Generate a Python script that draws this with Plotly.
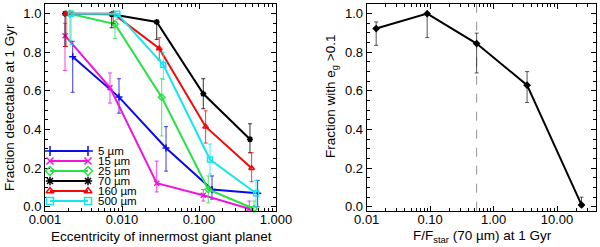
import plotly.graph_objects as go

# ---------------- data: left panel ----------------
wavelength_labels = ["5 µm", "15 µm", "25 µm", "70 µm", "160 µm", "500 µm"]
series_colors = ["rgb(10,10,235)", "rgb(240,20,220)", "rgb(40,225,70)", "rgb(0,0,0)", "rgb(240,10,10)", "rgb(20,230,240)"]
series_symbols = ["cross-thin-open", "x-thin-open", "diamond-open", "asterisk-open", "triangle-up-open", "square-open"]

ecc_5 = [0.00229, 0.00914, 0.0373, 0.1475, 0.578]
frac_5 = [0.777, 0.568, 0.305, 0.09, 0.07]
errp_5 = [0.08, 0.095, 0.11, 0.07, 0.067]
errm_5 = [0.184, 0.083, 0.12, 0.05, 0.07]

ecc_15 = [0.00182, 0.00698, 0.02824, 0.1137, 0.450]
frac_15 = [0.886, 0.617, 0.122, 0.06, -0.01]
errp_15 = [0.064, 0.076, 0.115, 0.03, 0.04]
errm_15 = [0.18, 0.08, 0.045, 0.03, 0.01]

ecc_25 = [0.00211, 0.00811, 0.0328, 0.132, 0.518]
frac_25 = [1.0, 0.946, 0.567, 0.09, -0.01]
errp_25 = [0.0, 0.015, 0.096, 0.07, 0.04]
errm_25 = [0.14, 0.075, 0.2, 0.07, 0.01]

ecc_70 = [0.00182, 0.00735, 0.02824, 0.1137, 0.459]
frac_70 = [1.0, 0.997, 0.957, 0.585, 0.35]
errp_70 = [0.0, 0.003, 0.0, 0.078, 0.08]
errm_70 = [0.17, 0.07, 0.09, 0.077, 0.07]

ecc_160 = [0.001875, 0.00771, 0.0305, 0.122, 0.483]
frac_160 = [1.0, 1.0, 0.82, 0.415, 0.2]
errp_160 = [0.0, 0.0, 0.055, 0.082, 0.08]
errm_160 = [0.17, 0.05, 0.06, 0.085, 0.07]

ecc_500 = [0.00218, 0.00869, 0.0344, 0.139, 0.550]
frac_500 = [1.0, 1.0, 0.735, 0.245, 0.07]
errp_500 = [0.0, 0.0, 0.065, 0.08, 0.067]
errm_500 = [0.16, 0.03, 0.075, 0.075, 0.07]

left_xtickvals = [0.001, 0.01, 0.1, 1.0]
left_xticktext = ["0.001", "0.010", "0.100", "1.000"]

# ---------------- data: right panel ----------------
flux_ratio = [0.0141, 0.0898, 0.54, 3.37, 24.3]
frac_ecc = [0.923, 1.0, 0.845, 0.63, 0.01]
frac_errp = [0.034, 0.0, 0.054, 0.07, 0.04]
frac_errm = [0.087, 0.124, 0.152, 0.09, 0.01]
flux_threshold = 0.54

right_xtickvals = [0.01, 0.1, 1.0, 10.0]
right_xticktext = ["0.01", "0.10", "1.00", "10.00"]

ytickvals = [0.0, 0.2, 0.4, 0.6, 0.8, 1.0]

left_xtitle = "Eccentricity of innermost giant planet"
left_ytitle = "Fraction detectable at 1 Gyr"
right_xtitle = "F/F<sub>star</sub> (70 µm) at 1 Gyr"
right_ytitle = "Fraction with e<sub>g</sub> >0.1"

# ---------------- figure ----------------
W, H = 600, 247
FONT = "Liberation Sans, Arial, Helvetica, sans-serif"

fig = go.Figure()

ecc_all = [ecc_5, ecc_15, ecc_25, ecc_70, ecc_160, ecc_500]
frac_all = [frac_5, frac_15, frac_25, frac_70, frac_160, frac_500]
errp_all = [errp_5, errp_15, errp_25, errp_70, errp_160, errp_500]
errm_all = [errm_5, errm_15, errm_25, errm_70, errm_160, errm_500]

for i in range(6):
    fig.add_trace(go.Scatter(
        x=ecc_all[i], y=frac_all[i], mode="lines+markers",
        line=dict(color=series_colors[i], width=2),
        marker=dict(symbol=series_symbols[i], size=5, color=series_colors[i],
                    line=dict(color=series_colors[i], width=1.5)),
        error_y=dict(type="data", array=errp_all[i], arrayminus=errm_all[i],
                     color=series_colors[i], thickness=0.8, width=2),
        xaxis="x", yaxis="y", showlegend=False, cliponaxis=False))

# custom IDL-style legend drawn on a hidden helper axis (x: 0..1 = sample line, text beyond)
n = len(wavelength_labels)
for i in range(n):
    fig.add_trace(go.Scatter(
        x=[0, 1], y=[n - 1 - i, n - 1 - i], mode="lines+markers",
        line=dict(color=series_colors[i], width=2),
        marker=dict(symbol=series_symbols[i], size=7, color=series_colors[i],
                    line=dict(color=series_colors[i], width=1.5)),
        xaxis="x3", yaxis="y3", showlegend=False, cliponaxis=False))
    fig.add_annotation(x=1.2, y=n - 1 - i, xref="x3", yref="y3", text=wavelength_labels[i],
                       showarrow=False, xanchor="left", yanchor="middle",
                       font=dict(family=FONT, size=11.5, color="black"))

# right panel
fig.add_trace(go.Scatter(
    x=flux_ratio, y=frac_ecc, mode="lines+markers",
    line=dict(color="black", width=2),
    marker=dict(symbol="diamond", size=6, color="black"),
    error_y=dict(type="data", array=frac_errp, arrayminus=frac_errm,
                 color="rgb(40,40,40)", thickness=0.8, width=2),
    xaxis="x2", yaxis="y2", showlegend=False, cliponaxis=False))

fig.add_shape(type="line", xref="x2", yref="y2 domain", x0=flux_threshold, x1=flux_threshold,
              y0=0, y1=1, line=dict(color="rgb(150,150,150)", width=1, dash="dash"), layer="below")

# geometry in pixels -> paper
def px(x):
    return x / W
def py(y):
    return 1 - y / H

ydom = [py(210.7), py(4)]

title_font = dict(family=FONT, size=13.5, color="black")
fig.add_annotation(text=left_xtitle, xref="paper", yref="paper", x=px(161), y=py(236),
                   showarrow=False, xanchor="center", yanchor="middle", font=title_font)
fig.add_annotation(text=right_xtitle, xref="paper", yref="paper", x=px(482), y=py(236),
                   showarrow=False, xanchor="center", yanchor="middle", font=title_font)
fig.add_annotation(text=left_ytitle, xref="paper", yref="paper", x=px(9), y=py(108),
                   showarrow=False, xanchor="center", yanchor="middle", textangle=-90, font=title_font)
fig.add_annotation(text=right_ytitle, xref="paper", yref="paper", x=px(331), y=py(97),
                   showarrow=False, xanchor="center", yanchor="middle", textangle=-90, font=title_font)

axis_common = dict(showline=True, linecolor="black", linewidth=1, mirror="allticks",
                   ticks="inside", ticklen=5, tickcolor="black", tickwidth=1,
                   showgrid=False, zeroline=False, automargin=False,
                   tickfont=dict(family=FONT, size=13, color="black"))

fig.update_layout(
    width=W, height=H, margin=dict(l=0, r=0, t=0, b=0, autoexpand=False),
    paper_bgcolor="white", plot_bgcolor="rgba(0,0,0,0)", showlegend=False,
    font=dict(family=FONT, size=12, color="black"),
    xaxis=dict(axis_common, type="log", domain=[px(45), px(276)], anchor="y",
               range=[-3, 0], tickvals=left_xtickvals, ticktext=left_xticktext,
               ticklabelstandoff=-3,
               minor=dict(ticks="inside", ticklen=3, tickcolor="black", dtick="D1", showgrid=False)),
    yaxis=dict(axis_common, domain=ydom, anchor="x", range=[-0.02, 1.05],
               tickvals=ytickvals, tickformat=".1f",
               minor=dict(ticks="inside", ticklen=3, tickcolor="black", dtick=0.05, showgrid=False)),
    xaxis2=dict(axis_common, type="log", domain=[px(366.7), px(596)], anchor="y2",
                range=[-2, 1.614], tickvals=right_xtickvals, ticktext=right_xticktext,
                ticklabelstandoff=-3,
                minor=dict(ticks="inside", ticklen=3, tickcolor="black", dtick="D1", showgrid=False)),
    yaxis2=dict(axis_common, domain=ydom, anchor="x2", range=[-0.02, 1.05],
                tickvals=ytickvals, tickformat=".1f",
                minor=dict(ticks="inside", ticklen=3, tickcolor="black", dtick=0.05, showgrid=False)),
    xaxis3=dict(domain=[px(50), px(50 + 38 * 3)], range=[0, 3], visible=False, anchor="y3",
                fixedrange=True, automargin=False),
    yaxis3=dict(domain=[py(206), py(146)], range=[-0.5, n - 0.5], visible=False, anchor="x3",
                fixedrange=True, automargin=False),
)

fig.write_html("out.html", config={"displayModeBar": False, "staticPlot": True},
               post_script="document.body.style.margin='0px';document.body.style.overflow='hidden';")
